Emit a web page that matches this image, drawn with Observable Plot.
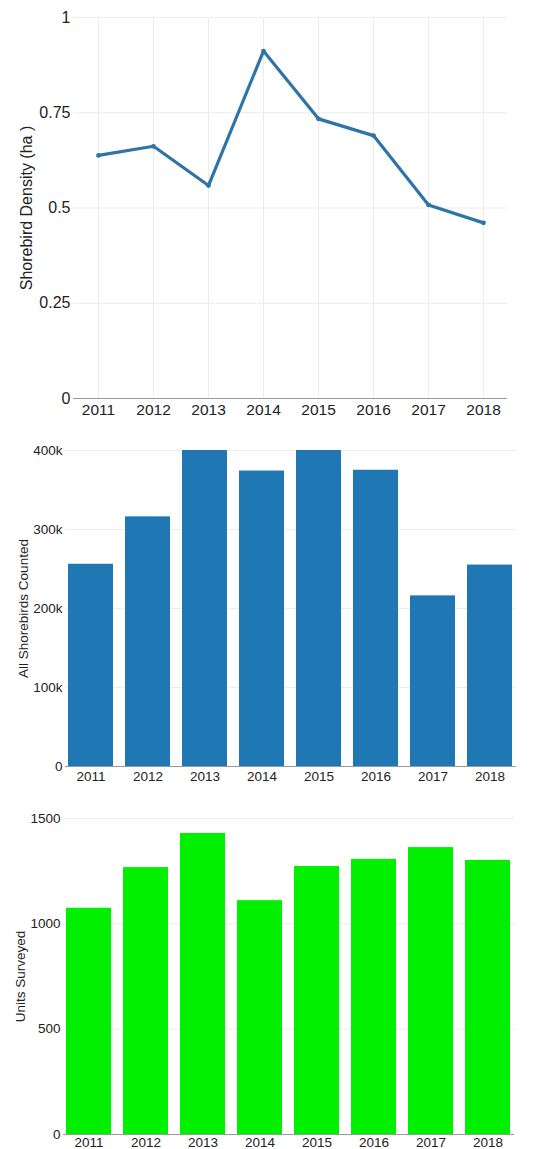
<!DOCTYPE html>
<html>
<head>
<meta charset="utf-8">
<script src="https://cdn.jsdelivr.net/npm/d3@7"></script>
<script src="https://cdn.jsdelivr.net/npm/@observablehq/plot@0.6"></script>
<style>
  html, body { margin: 0; padding: 0; background: #fff; }
  body { width: 544px; overflow: hidden; font-family: "Liberation Sans", Arial, sans-serif; }
  .chart svg { display: block; }
</style>
</head>
<body>
<div id="c1" class="chart"></div>
<div id="c2" class="chart"></div>
<div id="c3" class="chart"></div>
<script>
const years = ["2011", "2012", "2013", "2014", "2015", "2016", "2017", "2018"];
const density = [0.638, 0.662, 0.559, 0.912, 0.734, 0.690, 0.508, 0.461];
const shorebirds = [256000, 316000, 400000, 374000, 400000, 375000, 216000, 255000];
const units = [1074, 1267, 1429, 1110, 1272, 1306, 1362, 1301];

const densityTicks = [0, 0.25, 0.5, 0.75, 1];
const shorebirdTicks = [0, 100000, 200000, 300000, 400000];
const unitTicks = [0, 500, 1000, 1500];

const font = "Liberation Sans, Arial, sans-serif";
const d1 = years.map((y, i) => ({year: y, value: density[i]}));
const d2 = years.map((y, i) => ({year: y, value: shorebirds[i]}));
const d3v = years.map((y, i) => ({year: y, value: units[i]}));

const lineColor = "#2f74a6";
const axisColor = "#999";
const gridColor = "#ececec";

// Chart 1: line
const p1 = Plot.plot({
  width: 544, height: 428,
  marginTop: 17, marginBottom: 30, marginLeft: 73, marginRight: 37,
  style: {fontFamily: font, color: "#222", background: "#fff"},
  x: {type: "point", domain: years, padding: 0.44},
  y: {domain: [0, 1]},
  marks: [
    Plot.gridY(densityTicks, {stroke: gridColor, strokeOpacity: 1}),
    Plot.gridX(years, {stroke: gridColor, strokeOpacity: 1}),
    Plot.ruleY([0], {stroke: axisColor, strokeWidth: 1.2}),
    Plot.axisY(densityTicks, {tickSize: 0, tickPadding: 3, fontSize: 16, tickFormat: d => String(d),
      label: "Shorebird Density (ha )", labelAnchor: "center", labelArrow: "none", labelOffset: 53}),
    Plot.axisX(years, {tickSize: 0, tickPadding: 5, fontSize: 15.5, label: null}),
    Plot.line(d1, {x: "year", y: "value", stroke: lineColor, strokeWidth: 3.2}),
    Plot.dot(d1, {x: "year", y: "value", r: 2.4, fill: lineColor})
  ]
});
document.getElementById("c1").appendChild(p1);

// Chart 2: blue bars
const p2 = Plot.plot({
  width: 544, height: 360,
  marginTop: 22, marginBottom: 22, marginLeft: 65, marginRight: 28,
  style: {fontFamily: font, color: "#222", background: "#fff"},
  x: {type: "band", domain: years, paddingInner: 0.21, paddingOuter: 0.05},
  y: {domain: [0, 400000]},
  marks: [
    Plot.gridY(shorebirdTicks, {stroke: gridColor, strokeOpacity: 1}),
    Plot.barY(d2, {x: "year", y: "value", fill: "#1f77b4"}),
    Plot.ruleY([0], {stroke: axisColor, strokeWidth: 1.2}),
    Plot.axisY(shorebirdTicks, {tickSize: 0, tickPadding: 3, fontSize: 13.5,
      tickFormat: d => d === 0 ? "0" : (d / 1000) + "k",
      label: "All Shorebirds Counted", labelAnchor: "center", labelArrow: "none", labelOffset: 47}),
    Plot.axisX(years, {tickSize: 0, tickPadding: 5, fontSize: 13.5, label: null})
  ]
});
document.getElementById("c2").appendChild(p2);

// Chart 3: green bars
const p3 = Plot.plot({
  width: 544, height: 370,
  marginTop: 30, marginBottom: 24, marginLeft: 63, marginRight: 30,
  style: {fontFamily: font, color: "#222", background: "#fff"},
  x: {type: "band", domain: years, paddingInner: 0.21, paddingOuter: 0.05},
  y: {domain: [0, 1500]},
  marks: [
    Plot.gridY(unitTicks, {stroke: gridColor, strokeOpacity: 1}),
    Plot.barY(d3v, {x: "year", y: "value", fill: "#00f000"}),
    Plot.ruleY([0], {stroke: axisColor, strokeWidth: 1.2}),
    Plot.axisY(unitTicks, {tickSize: 0, tickPadding: 3, fontSize: 13.5, tickFormat: d => String(d),
      label: "Units Surveyed", labelAnchor: "center", labelArrow: "none", labelOffset: 48}),
    Plot.axisX(years, {tickSize: 0, tickPadding: 3, fontSize: 13.5, label: null})
  ]
});
document.getElementById("c3").appendChild(p3);
</script>
</body>
</html>
